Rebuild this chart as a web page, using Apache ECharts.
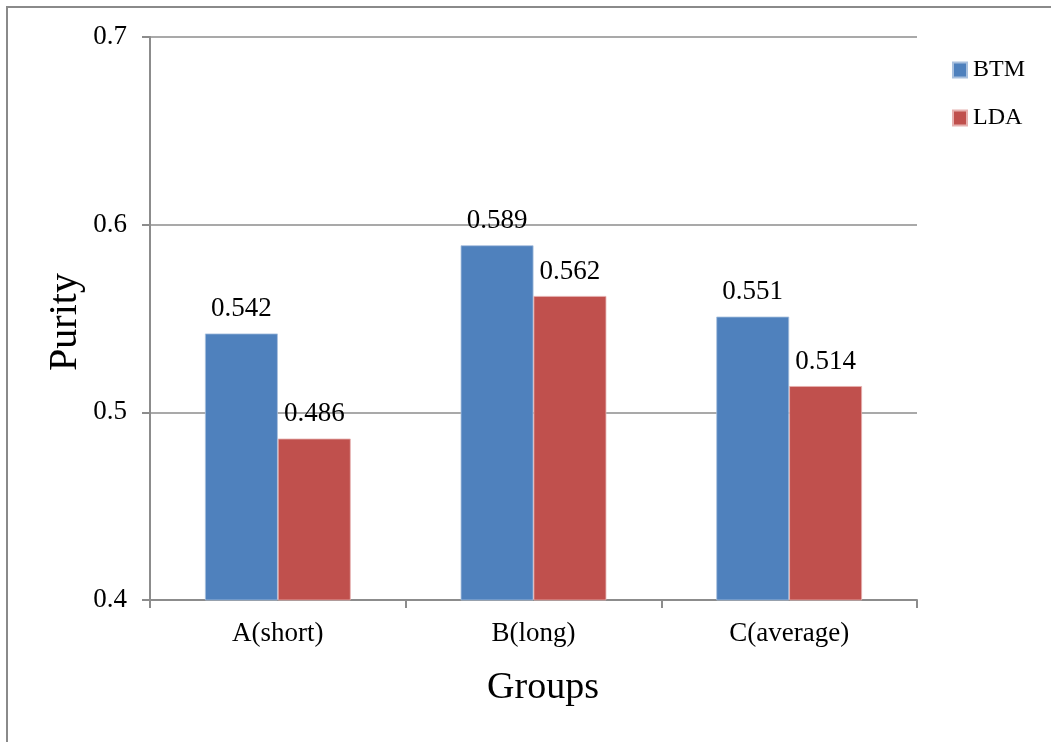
<!DOCTYPE html>
<html>
<head>
<meta charset="utf-8">
<script src="https://cdn.jsdelivr.net/npm/echarts@6/dist/echarts.min.js"></script>
<style>
  html, body { margin: 0; padding: 0; background: #fff; }
  #chart { width: 1051px; height: 742px; }
</style>
</head>
<body>
<div id="chart"></div>
<script>
// Purity of topic clusters per document group
const groups = ['A(short)', 'B(long)', 'C(average)'];
const btm = [0.542, 0.589, 0.551];
const lda = [0.486, 0.562, 0.514];
const seriesNames = ['BTM', 'LDA'];
const yMin = 0.4, yMax = 0.7, yStep = 0.1;

const FONT = 'Liberation Serif';
const AXIS_GRAY = '#8c8c8c';

const chart = echarts.init(document.getElementById('chart'), null, { renderer: 'canvas' });

const labelStyle = {
  show: true,
  position: 'top',
  distance: 11,
  fontFamily: FONT,
  fontSize: 27,
  color: '#000',
  formatter: p => p.value.toFixed(3)
};

chart.setOption({
  backgroundColor: '#fff',
  animation: false,
  grid: { left: 150, right: 134, top: 37, bottom: 142, containLabel: false },
  legend: {
    orient: 'vertical',
    left: 952,
    top: 58,
    padding: 0,
    itemWidth: 14,
    itemHeight: 15,
    itemGap: 24,
    icon: 'rect',
    textStyle: { fontFamily: FONT, fontSize: 24, color: '#000', padding: [0, 0, 0, 1] },
    data: seriesNames
  },
  xAxis: {
    type: 'category',
    data: groups,
    axisLine: { show: true, lineStyle: { color: AXIS_GRAY, width: 2 } },
    axisTick: { show: true, length: 8, alignWithLabel: false, lineStyle: { color: AXIS_GRAY, width: 2 } },
    axisLabel: { margin: 20, fontFamily: FONT, fontSize: 27, color: '#000' },
    splitLine: { show: false }
  },
  yAxis: {
    type: 'value',
    min: yMin,
    max: yMax,
    interval: yStep,
    axisLine: { show: true, lineStyle: { color: AXIS_GRAY, width: 2 } },
    axisTick: { show: true, length: 8, lineStyle: { color: AXIS_GRAY, width: 2 } },
    axisLabel: {
      margin: 23,
      fontFamily: FONT,
      fontSize: 27,
      color: '#000',
      formatter: v => v.toFixed(1)
    },
    splitLine: { show: true, lineStyle: { color: AXIS_GRAY, width: 1.5 } }
  },
  series: [
    {
      name: seriesNames[0],
      type: 'bar',
      data: btm,
      barGap: '0%',
      barCategoryGap: '43%',
      itemStyle: { color: '#4F81BD', borderColor: '#A8C0DE', borderWidth: 0.8 },
      label: labelStyle
    },
    {
      name: seriesNames[1],
      type: 'bar',
      data: lda,
      barGap: '0%',
      barCategoryGap: '43%',
      itemStyle: { color: '#C0504D', borderColor: '#E6B1B0', borderWidth: 0.8 },
      label: labelStyle
    }
  ],
  graphic: [
    {
      type: 'rect',
      shape: { x: 7, y: 7, width: 1100, height: 800 },
      style: { fill: 'none', stroke: '#8a8a8a', lineWidth: 2 },
      silent: true
    },
    {
      type: 'text',
      x: 65,
      y: 322,
      rotation: Math.PI / 2,
      style: {
        text: 'Purity',
        fontFamily: FONT,
        fontSize: 40,
        fill: '#000',
        textAlign: 'center',
        textVerticalAlign: 'middle'
      }
    },
    {
      type: 'text',
      x: 543,
      y: 688,
      style: {
        text: 'Groups',
        fontFamily: FONT,
        fontSize: 38,
        fill: '#000',
        textAlign: 'center',
        textVerticalAlign: 'middle'
      }
    }
  ]
});
</script>
</body>
</html>
